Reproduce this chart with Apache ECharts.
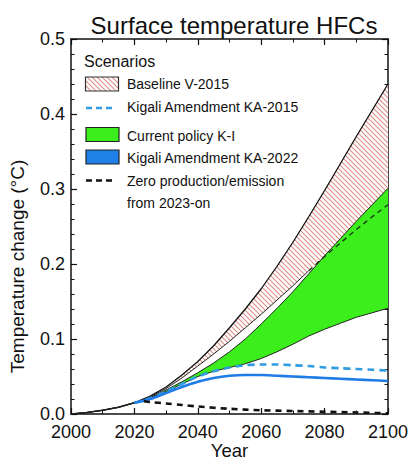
<!DOCTYPE html>
<html>
<head>
<meta charset="utf-8">
<script src="https://cdn.jsdelivr.net/npm/echarts@6/dist/echarts.min.js"></script>
<style>
html,body{margin:0;padding:0;background:#fff;}
#chart{width:410px;height:461px;}
</style>
</head>
<body>
<div id="chart"></div>
<script>
// ---- data ----
const years = [2000,2005,2010,2015,2020,2025,2030,2035,2040,2045,2050,2055,2060,2065,2070,2075,2080,2085,2090,2095,2100];
const baselineHigh = [0.000,0.002,0.005,0.009,0.015,0.024,0.036,0.052,0.070,0.091,0.115,0.140,0.167,0.197,0.229,0.263,0.298,0.334,0.370,0.405,0.440];
const baselineLow  = [0.000,0.002,0.005,0.009,0.015,0.023,0.034,0.048,0.064,0.080,0.097,0.115,0.133,0.152,0.171,0.191,0.210,0.228,0.246,0.263,0.279];
const policyHigh   = [0.000,0.002,0.005,0.009,0.015,0.022,0.032,0.043,0.055,0.068,0.083,0.100,0.120,0.141,0.163,0.187,0.211,0.234,0.257,0.279,0.301];
const policyLow    = [0.000,0.002,0.005,0.009,0.015,0.021,0.030,0.040,0.050,0.057,0.062,0.067,0.074,0.083,0.093,0.104,0.113,0.121,0.129,0.135,0.141];
const kaYears      = [2020,2025,2030,2035,2040,2045,2050,2055,2060,2065,2070,2075,2080,2085,2090,2095,2100];
const ka2015       = [0.015,0.021,0.030,0.040,0.050,0.057,0.062,0.065,0.066,0.066,0.065,0.064,0.062,0.061,0.060,0.059,0.058];
const ka2022       = [0.015,0.020,0.028,0.036,0.043,0.048,0.051,0.052,0.052,0.051,0.050,0.049,0.048,0.047,0.046,0.045,0.044];
const zeroYears    = [2023,2025,2030,2035,2040,2050,2060,2070,2080,2090,2100];
const zeroEmission = [0.017,0.016,0.014,0.012,0.010,0.007,0.005,0.004,0.003,0.002,0.001];
const xTicks = [2000,2020,2040,2060,2080,2100];
const yTicks = [0.0,0.1,0.2,0.3,0.4,0.5];
const lowSplitYear = 2075;

// ---- helpers ----
const pairs = (xs, ys) => xs.map((x, i) => [x, ys[i]]);

// hatch pattern
const hatch = document.createElement('canvas');
hatch.width = 5; hatch.height = 5;
(function(){
  const c = hatch.getContext('2d');
  c.fillStyle = '#ffffff'; c.fillRect(0,0,5,5);
  c.strokeStyle = '#dc8f86'; c.lineWidth = 1.1;
  c.beginPath();
  c.moveTo(-1,-1); c.lineTo(6,6);
  c.moveTo(-1,4); c.lineTo(1,6);
  c.moveTo(4,-1); c.lineTo(6,1);
  c.stroke();
})();

const FONT = 'Liberation Sans, Arial, sans-serif';
const chart = echarts.init(document.getElementById('chart'), null, {renderer: 'svg'});

const lineBase = (name, data, extra) => Object.assign({
  type: 'line', name, data, showSymbol: false, symbol: 'none', smooth: false,
  animation: false, silent: true
}, extra);

// filled band between two curves, drawn through the cartesian scales
const bandSeries = (name, xs, lo, hi, fill) => ({
  type: 'custom', name, coordinateSystem: 'cartesian2d', silent: true, animation: false,
  data: xs.map((x, i) => [x, lo[i], hi[i]]),
  encode: {x: 0, y: [1, 2]},
  renderItem: (params, api) => {
    if (params.dataIndex !== 0) return null;
    const top = xs.map((x, i) => api.coord([x, hi[i]]));
    const bot = xs.map((x, i) => api.coord([x, lo[i]])).reverse();
    return {type: 'polygon', shape: {points: top.concat(bot)}, style: {fill: fill, stroke: null}};
  }
});

const lowSolid = years.map((y, i) => y <= lowSplitYear ? [y, baselineLow[i]] : [y, null]);
const lowDashed = years.map((y, i) => y >= lowSplitYear ? [y, baselineLow[i]] : [y, null]);

const axisCommon = {
  type: 'value',
  axisLine: {show: true, onZero: false, lineStyle: {color: '#111', width: 1.5}},
  axisTick: {show: true, inside: true, length: 6, lineStyle: {color: '#111', width: 1.2}},
  minorTick: {show: true, length: 3.5, lineStyle: {color: '#111', width: 1}},
  splitLine: {show: false},
  minorSplitLine: {show: false}
};

// legend layout
const lx = 86, tx = 127;
const legendText = (t, y, size) => ({type: 'text', left: tx, top: y - 8, style: {text: t, fill: '#111', font: (size||14) + 'px ' + FONT}});
const graphic = [
  {type: 'text', left: 84, top: 53, style: {text: 'Scenarios', fill: '#111', font: '16px ' + FONT}},
  {type: 'rect', shape: {x: lx - 0.5, y: 77, width: 33, height: 14}, style: {fill: {image: hatch, repeat: 'repeat'}, stroke: '#333', lineWidth: 1.2}},
  legendText('Baseline V-2015', 85),
  {type: 'line', shape: {x1: lx, y1: 108, x2: lx + 30, y2: 108}, style: {stroke: '#2f9be0', lineWidth: 2.5, lineDash: [6, 4]}},
  legendText('Kigali Amendment KA-2015', 108),
  {type: 'rect', shape: {x: lx, y: 127.5, width: 33, height: 14}, style: {fill: '#3cef1c', stroke: '#222', lineWidth: 1.2}},
  legendText('Current policy K-I', 137),
  {type: 'rect', shape: {x: lx, y: 150, width: 33, height: 14}, style: {fill: '#1f80ea', stroke: '#222', lineWidth: 1.2}},
  legendText('Kigali Amendment KA-2022', 158.5),
  {type: 'line', shape: {x1: lx, y1: 180.5, x2: lx + 30, y2: 180.5}, style: {stroke: '#111', lineWidth: 2.5, lineDash: [6, 4]}},
  legendText('Zero production/emission', 182),
  legendText('from 2023-on', 203.5)
];

const option = {
  backgroundColor: '#ffffff',
  animation: false,
  textStyle: {fontFamily: FONT},
  title: {
    text: 'Surface temperature HFCs', left: 229, top: 8, textAlign: 'center',
    textStyle: {fontSize: 24, fontWeight: 'normal', color: '#111', fontFamily: FONT}
  },
  grid: {left: 71, right: 22, top: 39, bottom: 47, containLabel: false, outerBoundsMode: 'none'},
  xAxis: [
    Object.assign({}, axisCommon, {
      min: xTicks[0], max: xTicks[xTicks.length - 1], interval: 20, position: 'bottom',
      minorTick: Object.assign({}, axisCommon.minorTick, {splitNumber: 2}),
      axisLabel: {show: true, margin: 9, fontSize: 18, color: '#111', fontFamily: FONT, formatter: v => String(v)},
      name: 'Year', nameLocation: 'middle', nameGap: 27, nameMoveOverlap: false,
      nameTextStyle: {fontSize: 18.5, color: '#111', fontFamily: FONT, lineHeight: 18}
    }),
    Object.assign({}, axisCommon, {
      min: xTicks[0], max: xTicks[xTicks.length - 1], interval: 20, position: 'top',
      minorTick: Object.assign({}, axisCommon.minorTick, {splitNumber: 2}),
      axisLabel: {show: false}
    })
  ],
  yAxis: [
    Object.assign({}, axisCommon, {
      min: yTicks[0], max: yTicks[yTicks.length - 1], interval: 0.1, position: 'left',
      minorTick: Object.assign({}, axisCommon.minorTick, {splitNumber: 5}),
      axisLabel: {show: true, margin: 6, fontSize: 18, color: '#111', fontFamily: FONT, formatter: v => v.toFixed(1)},
      name: 'Temperature change (°C)', nameLocation: 'middle', nameGap: 44, nameRotate: 90,
      nameTextStyle: {fontSize: 19, color: '#111', fontFamily: FONT, padding: [0, 80, 0, 0]}
    }),
    Object.assign({}, axisCommon, {
      min: yTicks[0], max: yTicks[yTicks.length - 1], interval: 0.1, position: 'right',
      minorTick: Object.assign({}, axisCommon.minorTick, {splitNumber: 5}),
      axisLabel: {show: false}
    })
  ],
  graphic: graphic,
  series: [
    bandSeries('Baseline V-2015', years, baselineLow, baselineHigh, {image: hatch, repeat: 'repeat'}),
    bandSeries('Current policy K-I', years, policyLow, policyHigh, '#3cef1c'),
    lineBase('baselineHighLine', pairs(years, baselineHigh), {lineStyle: {color: '#111', width: 1.3}}),
    lineBase('baselineLowLine', lowSolid, {lineStyle: {color: '#222', width: 1}}),
    lineBase('baselineLowDash', lowDashed, {lineStyle: {color: '#1a3a1a', width: 1.4, type: [5, 4]}}),
    lineBase('policyHighLine', pairs(years, policyHigh), {lineStyle: {color: '#222', width: 1}}),
    lineBase('policyLowLine', pairs(years, policyLow), {lineStyle: {color: '#222', width: 1}}),
    lineBase('Kigali Amendment KA-2015', pairs(kaYears, ka2015), {smooth: 0.3, lineStyle: {color: '#2f9be0', width: 2.6, type: [7, 5]}}),
    lineBase('Kigali Amendment KA-2022', pairs(kaYears, ka2022), {smooth: 0.3, lineStyle: {color: '#1f7be6', width: 2.6}}),
    lineBase('Zero production/emission from 2023-on', pairs(zeroYears, zeroEmission), {smooth: 0.3, lineStyle: {color: '#111', width: 2.6, type: [6, 5]}})
  ]
};
chart.setOption(option);
</script>
</body>
</html>
